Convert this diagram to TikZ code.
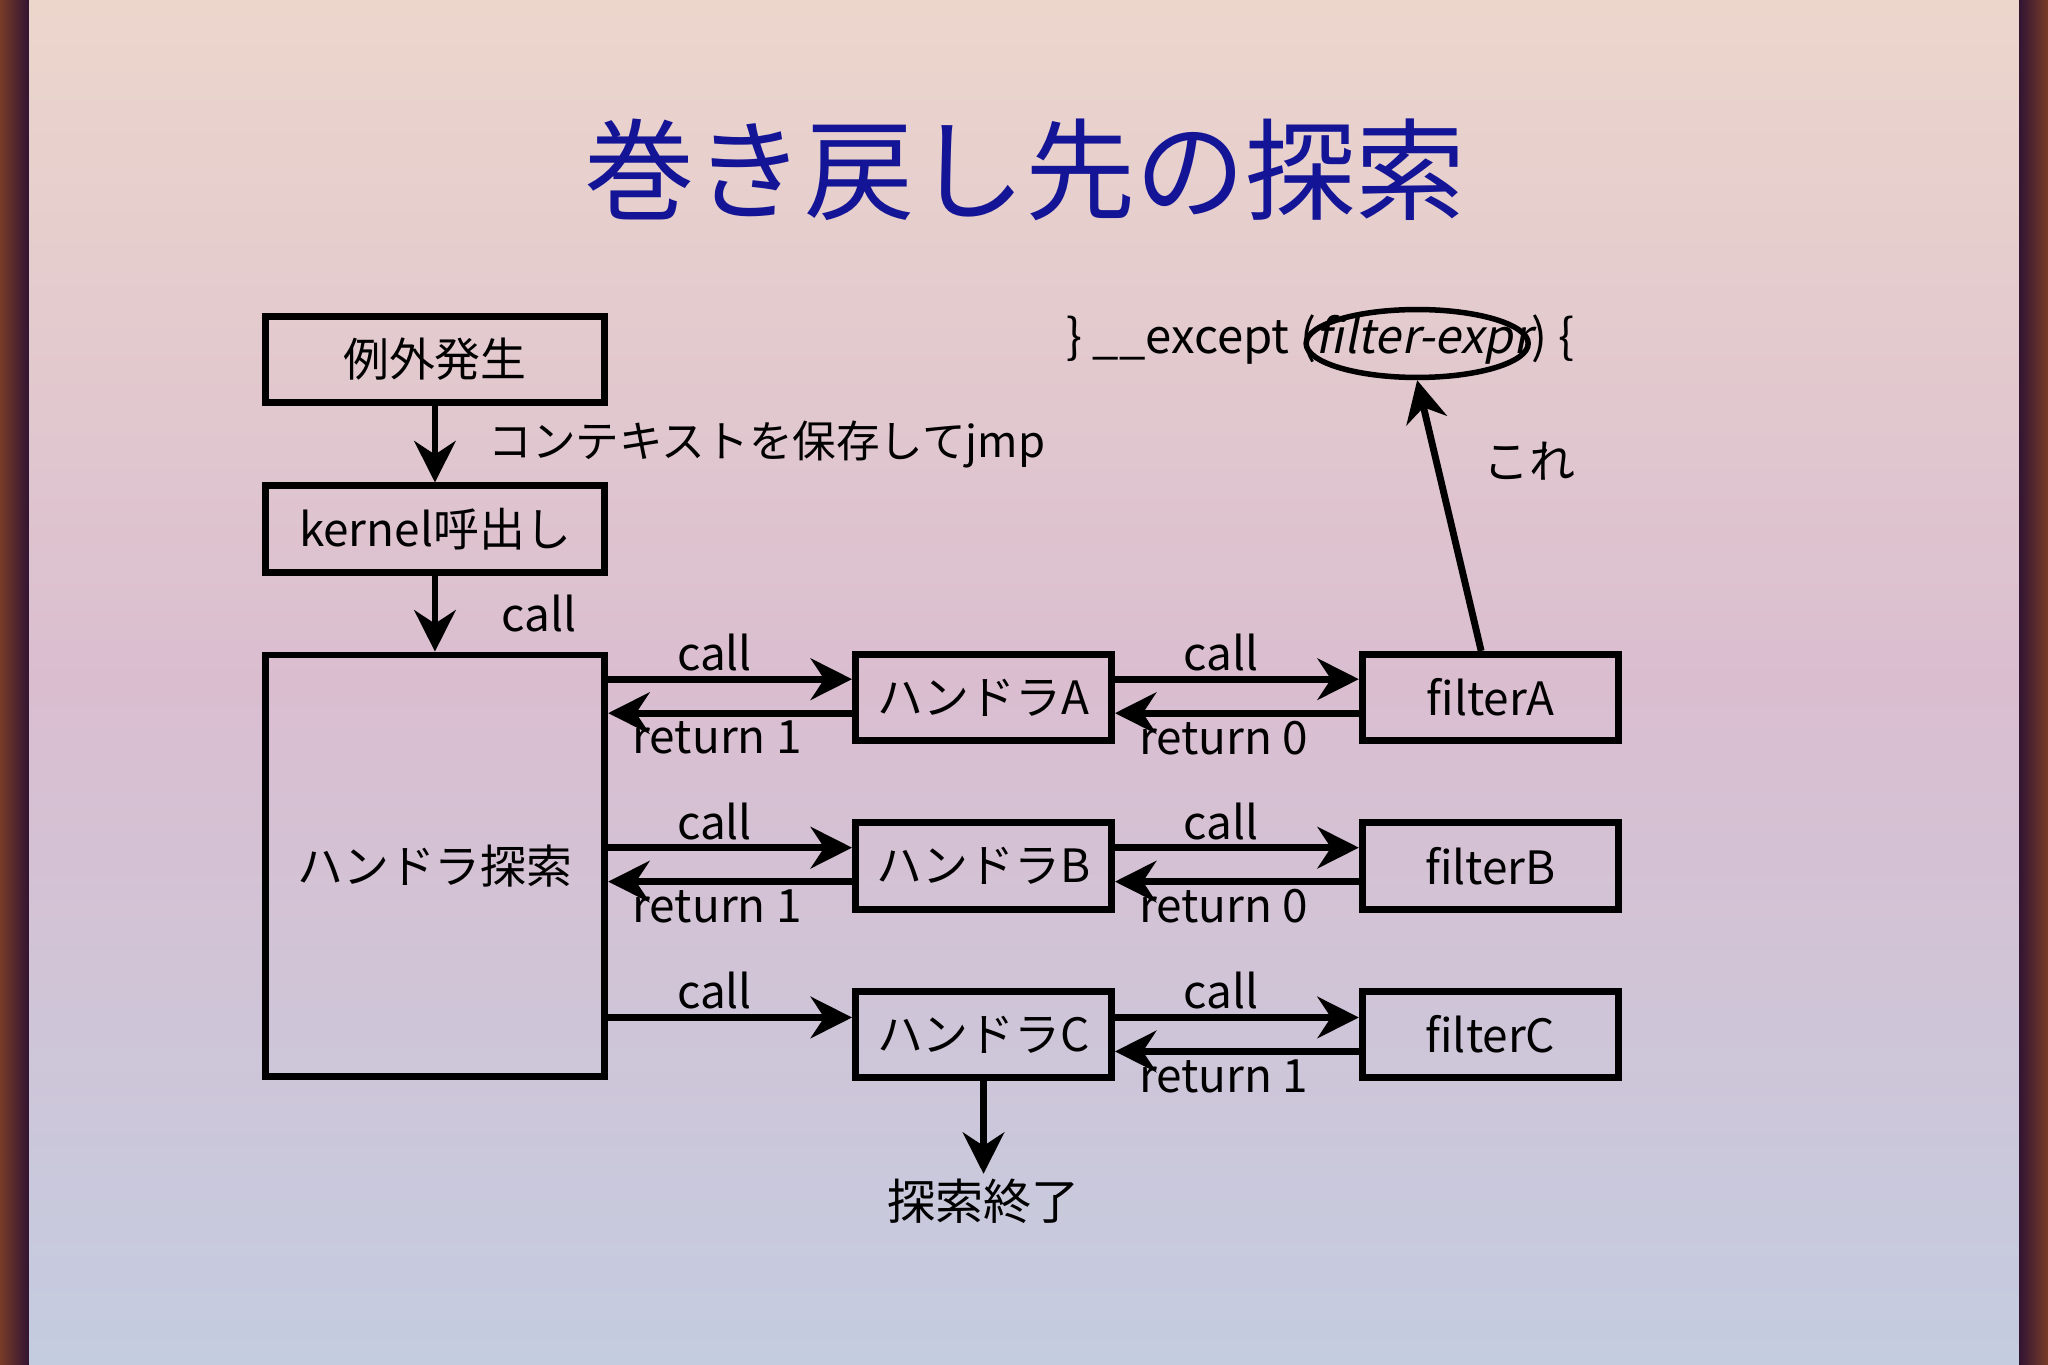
\documentclass[tikz,border=0pt]{standalone}
\usepackage{fontspec}
\setmainfont{Noto Sans CJK JP}
\usetikzlibrary{arrows.meta,shapes.geometric,positioning}
\definecolor{bgpeach}{RGB}{236,214,204}
\definecolor{bgpink}{RGB}{218,190,208}
\definecolor{bgblue}{RGB}{196,204,224}
\definecolor{titleblue}{RGB}{20,20,150}
\definecolor{sidebrown}{RGB}{120,60,40}
\definecolor{sidedark}{RGB}{50,20,50}

\begin{document}
\begin{tikzpicture}[
	box/.style={draw, line width=1.5pt, minimum width=2.6cm, minimum height=0.66cm, font=\fontsize{10}{12}\selectfont, inner sep=0pt},
	sbox/.style={box, minimum width=1.96cm},
	lbl/.style={font=\fontsize{10}{12}\selectfont, inner sep=1pt},
	arr/.style={line width=1.5pt, -{Stealth[length=9pt,width=9pt]}}]

    % background
    \fill[top color=bgpeach, bottom color=bgblue, middle color=bgpink] (0,0) rectangle (15.68,10.45);
    \fill[left color=sidebrown, right color=sidedark] (0,0) rectangle (0.22,10.45);
    \fill[left color=sidedark, right color=sidebrown] (15.46,0) rectangle (15.68,10.45);
    \useasboundingbox (0,0) rectangle (15.68,10.45);

    \node[font=\fontsize{24}{29}\selectfont, text=titleblue] (title) at (7.85,9.15) {巻き戻し先の探索};

    \node[box] (exc) at (3.33,7.70) {例外発生};
    \node[box] (kern) at (3.33,6.40) {kernel呼出し};
    \node[box, minimum height=3.23cm] (srch) at (3.33,3.82) {ハンドラ探索};

    \node[sbox] (ha) at (7.53,5.11) {ハンドラA};
    \node[sbox] (hb) at (7.53,3.82) {ハンドラB};
    \node[sbox] (hc) at (7.53,2.53) {ハンドラC};
    \node[sbox] (fa) at (11.41,5.11) {filterA};
    \node[sbox] (fb) at (11.41,3.82) {filterB};
    \node[sbox] (fc) at (11.41,2.53) {filterC};
    \node[lbl, font=\fontsize{10.5}{13}\selectfont] (end) at (7.53,1.25) {探索終了};

    \node[lbl, anchor=west, font=\fontsize{10.3}{13}\selectfont] (exp) at (8.12,7.85) {\} \_\_except ({\addfontfeature{FakeSlant=0.2}filter-expr}) \{};
    \node[draw, ellipse, line width=1.2pt, minimum width=1.7cm, minimum height=0.52cm] (ell) at (10.85,7.82) {};

    \draw[arr] (exc) -- (kern) node[lbl, midway, right=0.35cm, font=\fontsize{9.5}{12}\selectfont] {コンテキストを保存してjmp};
    \draw[arr] (kern) -- (srch) node[lbl, midway, right=0.45cm] {call};

    \foreach \h/\f/\r/\s in {ha/fa/1/0, hb/fb/1/0}{
      \draw[arr] ([yshift=0.14cm]srch.east |- \h) -- ([yshift=0.14cm]\h.west) node[lbl, midway, above, xshift=-0.12cm] {call};
      \draw[arr] ([yshift=-0.12cm]\h.west) -- ([yshift=-0.12cm]srch.east |- \h) node[lbl, midway, below, xshift=-0.1cm] {return \r};
      \draw[arr] ([yshift=0.14cm]\h.east) -- ([yshift=0.14cm]\f.west) node[lbl, midway, above, xshift=-0.12cm] {call};
      \draw[arr] ([yshift=-0.12cm]\f.west) -- ([yshift=-0.12cm]\h.east) node[lbl, midway, below, xshift=-0.1cm] {return \s};
    }
    \draw[arr] ([yshift=0.13cm]srch.east |- hc) -- ([yshift=0.13cm]hc.west) node[lbl, midway, above, xshift=-0.12cm] {call};
    \draw[arr] ([yshift=0.13cm]hc.east) -- ([yshift=0.13cm]fc.west) node[lbl, midway, above, xshift=-0.12cm] {call};
    \draw[arr] ([yshift=-0.13cm]fc.west) -- ([yshift=-0.13cm]hc.east) node[lbl, midway, below, xshift=-0.1cm] {return 1};
    \draw[arr] (hc) -- (end);

    \draw[arr] ([xshift=-0.07cm]fa.north) -- (ell.south) node[lbl, pos=0.7, right=0.3cm] {これ};
\end{tikzpicture}
\end{document}
